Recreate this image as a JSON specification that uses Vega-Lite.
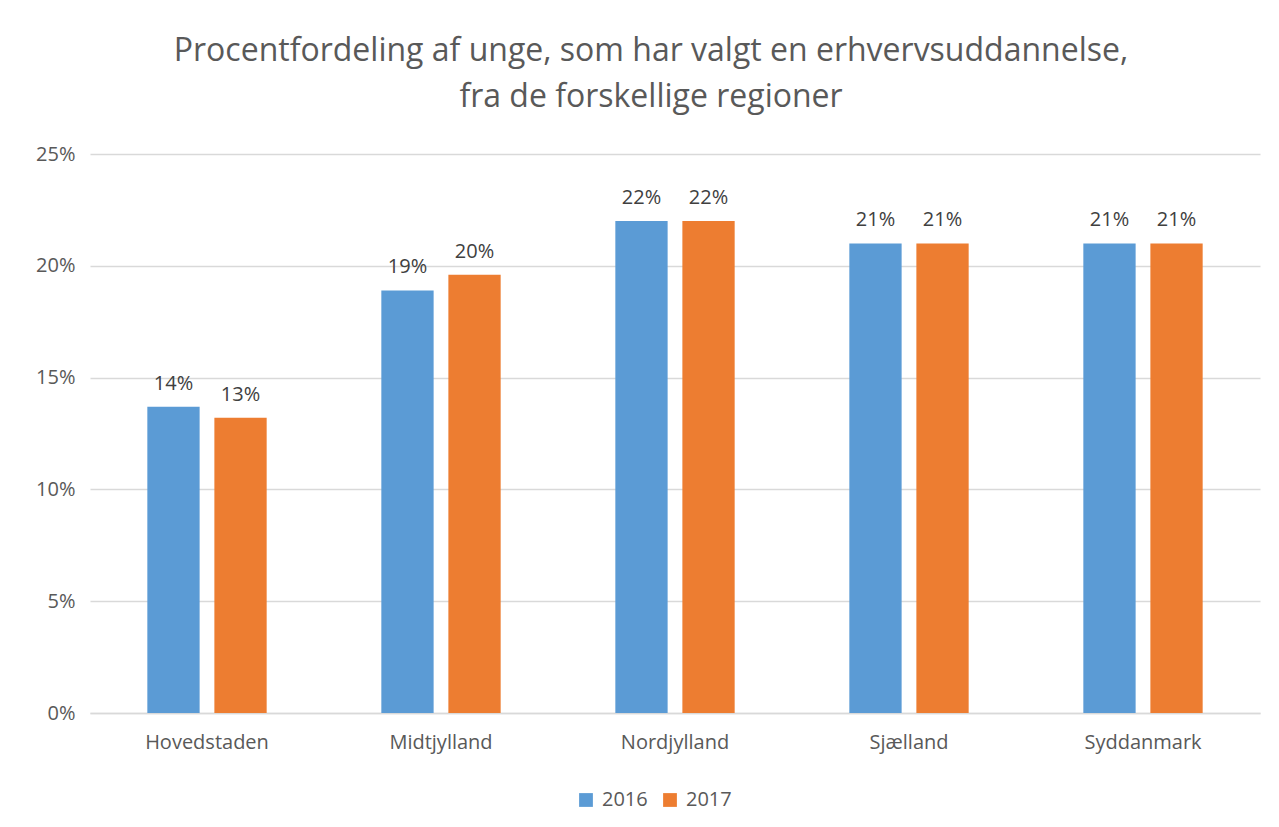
{
  "$schema": "https://vega.github.io/schema/vega-lite/v6.json",
  "width": 1170,
  "height": 559,
  "autosize": {"type": "none"},
  "padding": {"left": 90, "top": 154, "right": 19, "bottom": 114},
  "background": "white",
  "title": {
    "text": ["Procentfordeling af unge, som har valgt en erhvervsuddannelse,", "fra de forskellige regioner"],
    "anchor": "middle",
    "frame": "group",
    "dx": -24,
    "offset": 30,
    "font": "Open Sans",
    "fontSize": 32,
    "fontWeight": "normal",
    "color": "#595959",
    "lineHeight": 46
  },
  "data": {
    "values": [
      {"region": "Hovedstaden", "year": "2016", "value": 0.137},
      {"region": "Hovedstaden", "year": "2017", "value": 0.132},
      {"region": "Midtjylland", "year": "2016", "value": 0.189},
      {"region": "Midtjylland", "year": "2017", "value": 0.196},
      {"region": "Nordjylland", "year": "2016", "value": 0.22},
      {"region": "Nordjylland", "year": "2017", "value": 0.22},
      {"region": "Sjælland", "year": "2016", "value": 0.21},
      {"region": "Sjælland", "year": "2017", "value": 0.21},
      {"region": "Syddanmark", "year": "2016", "value": 0.21},
      {"region": "Syddanmark", "year": "2017", "value": 0.21}
    ]
  },
  "encoding": {
    "x": {
      "field": "region",
      "type": "nominal",
      "sort": null,
      "scale": {"paddingInner": 0.49, "paddingOuter": 0.245},
      "axis": {
        "title": null,
        "labelAngle": 0,
        "labelFont": "Open Sans",
        "labelFontSize": 20,
        "labelColor": "#595959",
        "labelPadding": 19,
        "ticks": false,
        "domainColor": "#d9d9d9",
        "domainWidth": 1.5
      }
    },
    "xOffset": {
      "field": "year",
      "type": "nominal",
      "scale": {"paddingInner": 0.22, "paddingOuter": 0}
    },
    "y": {
      "field": "value",
      "type": "quantitative",
      "scale": {"domain": [0, 0.25]},
      "axis": {
        "title": null,
        "format": ".0%",
        "values": [0, 0.05, 0.1, 0.15, 0.2, 0.25],
        "labelFont": "Open Sans",
        "labelFontSize": 20,
        "labelColor": "#595959",
        "labelPadding": 15,
        "ticks": false,
        "domain": false,
        "gridColor": "#d9d9d9",
        "gridWidth": 1.5
      }
    }
  },
  "layer": [
    {
      "mark": {"type": "bar"},
      "encoding": {
        "color": {
          "field": "year",
          "type": "nominal",
          "scale": {"domain": ["2016", "2017"], "range": ["#5B9BD5", "#ED7D31"]},
          "legend": {
            "title": null,
            "orient": "none",
            "direction": "horizontal",
            "legendX": 486,
            "legendY": 636,
            "symbolType": "square",
            "symbolSize": 190,
            "symbolStrokeWidth": 0,
            "labelFont": "Open Sans",
            "labelFontSize": 20,
            "labelColor": "#595959",
            "columnPadding": 12,
            "labelOffset": 6
          }
        }
      }
    },
    {
      "mark": {"type": "text", "dy": -13, "font": "Open Sans", "fontSize": 20, "color": "#404040", "baseline": "bottom"},
      "encoding": {
        "text": {"field": "value", "type": "quantitative", "format": ".0%"}
      }
    }
  ],
  "config": {"view": {"stroke": null}}
}
